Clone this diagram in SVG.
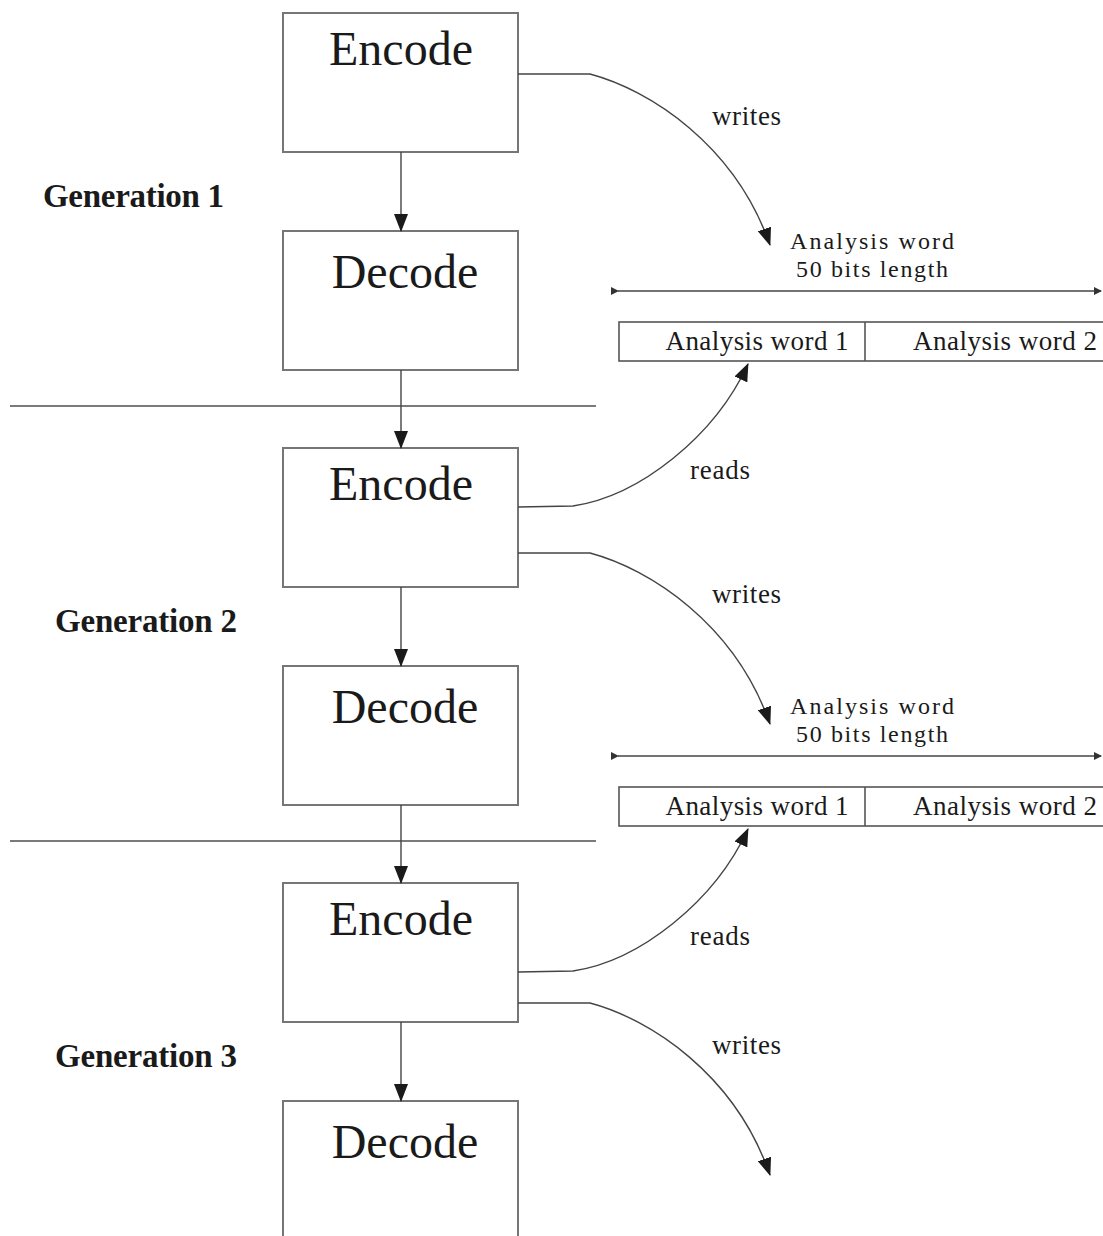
<svg xmlns="http://www.w3.org/2000/svg" width="1103" height="1236" viewBox="0 0 1103 1236">
<style>
.box{fill:#fff;stroke:#767676;stroke-width:2}
.sep{stroke:#7a7a7a;stroke-width:2}
.con{fill:none;stroke:#444;stroke-width:1.4}
.big{font-family:"Liberation Serif",serif;font-size:48px;fill:#1a1a1a;text-anchor:middle}
.gen{font-family:"Liberation Serif",serif;font-size:33px;font-weight:bold;fill:#1a1a1a}
.sm{font-family:"Liberation Serif",serif;font-size:27px;fill:#1a1a1a}
.hd{font-family:"Liberation Serif",serif;font-size:24px;fill:#1a1a1a}
.bar{fill:#fff;stroke:#555;stroke-width:1.6}
</style>
<defs>
<marker id="ah" markerWidth="18" markerHeight="14" refX="17" refY="7" orient="auto" markerUnits="userSpaceOnUse">
<path d="M0,0 L18,7 L0,14 Z" fill="#1a1a1a"/>
</marker>
<marker id="dm" markerWidth="8" markerHeight="8" refX="7" refY="4" orient="auto" markerUnits="userSpaceOnUse">
<path d="M0,0 L8,4 L0,8 Z" fill="#333"/>
</marker>
</defs>

<g id="separators">
<line class="sep" x1="10" y1="406" x2="596" y2="406"/>
<line class="sep" x1="10" y1="841" x2="596" y2="841"/>
</g>

<g id="generation-labels">
<text class="gen" x="43" y="207" textLength="181">Generation 1</text>
<text class="gen" x="55" y="632" textLength="182">Generation 2</text>
<text class="gen" x="55" y="1067" textLength="182">Generation 3</text>
</g>

<g id="encode1"><rect class="box" x="283" y="13" width="235" height="139"/><text class="big" x="401" y="65">Encode</text></g>
<g id="decode1"><rect class="box" x="283" y="231" width="235" height="139"/><text class="big" x="405" y="288">Decode</text></g>
<g id="encode2"><rect class="box" x="283" y="448" width="235" height="139"/><text class="big" x="401" y="500">Encode</text></g>
<g id="decode2"><rect class="box" x="283" y="666" width="235" height="139"/><text class="big" x="405" y="723">Decode</text></g>
<g id="encode3"><rect class="box" x="283" y="883" width="235" height="139"/><text class="big" x="401" y="935">Encode</text></g>
<g id="decode3"><rect class="box" x="283" y="1101" width="235" height="150"/><text class="big" x="405" y="1158">Decode</text></g>

<g id="analysis1">
<text class="hd" x="872" y="249" text-anchor="middle" textLength="164">Analysis word</text>
<text class="hd" x="872" y="277" text-anchor="middle" textLength="152">50 bits length</text>
<line class="con" x1="618" y1="291" x2="1101" y2="291" marker-start="url(#dm)" marker-end="url(#dm)"/>
<rect class="bar" x="619" y="322" width="490" height="39"/>
<line class="bar" x1="865" y1="322" x2="865" y2="361"/>
<text class="sm" x="757" y="350" text-anchor="middle" textLength="183">Analysis word 1</text>
<text class="sm" x="1005" y="350" text-anchor="middle" textLength="184">Analysis word 2</text>
</g>
<g id="analysis2">
<text class="hd" x="872" y="714" text-anchor="middle" textLength="164">Analysis word</text>
<text class="hd" x="872" y="742" text-anchor="middle" textLength="152">50 bits length</text>
<line class="con" x1="618" y1="756" x2="1101" y2="756" marker-start="url(#dm)" marker-end="url(#dm)"/>
<rect class="bar" x="619" y="787" width="490" height="39"/>
<line class="bar" x1="865" y1="787" x2="865" y2="826"/>
<text class="sm" x="757" y="815" text-anchor="middle" textLength="183">Analysis word 1</text>
<text class="sm" x="1005" y="815" text-anchor="middle" textLength="184">Analysis word 2</text>
</g>

<g id="connectors">
<line class="con" x1="401" y1="152" x2="401" y2="231" marker-end="url(#ah)"/>
<line class="con" x1="401" y1="370" x2="401" y2="448" marker-end="url(#ah)"/>
<line class="con" x1="401" y1="587" x2="401" y2="666" marker-end="url(#ah)"/>
<line class="con" x1="401" y1="805" x2="401" y2="883" marker-end="url(#ah)"/>
<line class="con" x1="401" y1="1022" x2="401" y2="1101" marker-end="url(#ah)"/>

<path class="con" d="M518,74 L590,74 C650,90 735,145 770,245" marker-end="url(#ah)"/>
<path class="con" d="M518,553 L590,553 C650,569 735,624 770,724" marker-end="url(#ah)"/>
<path class="con" d="M518,1003 L590,1003 C650,1019 735,1074 770,1175" marker-end="url(#ah)"/>

<path class="con" d="M518,507 L573,506 C640,496 715,436 748,364" marker-end="url(#ah)"/>
<path class="con" d="M518,972 L573,971 C640,961 715,901 748,829" marker-end="url(#ah)"/>

<text class="sm" x="712" y="125" textLength="69">writes</text>
<text class="sm" x="712" y="603" textLength="69">writes</text>
<text class="sm" x="712" y="1054" textLength="69">writes</text>
<text class="sm" x="690" y="479" textLength="60">reads</text>
<text class="sm" x="690" y="945" textLength="60">reads</text>
</g>
</svg>
